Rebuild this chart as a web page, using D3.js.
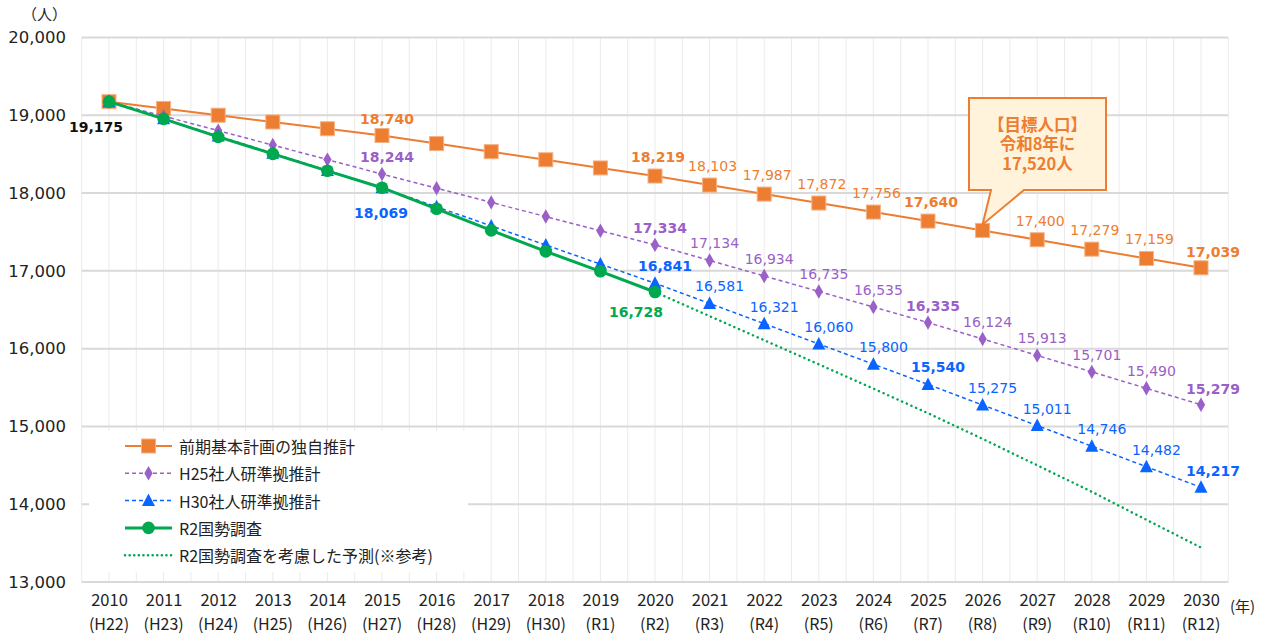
<!DOCTYPE html>
<html><head><meta charset="utf-8">
<script src="https://cdn.jsdelivr.net/npm/d3@7/dist/d3.min.js"></script>
<style>
html,body{margin:0;padding:0;background:#fff;}
svg{display:block;font-family:"Noto Sans CJK JP","Noto Sans",sans-serif;}
</style></head><body>
<svg id="chart" width="1271" height="635"></svg>
<script>
const years = [2010,2011,2012,2013,2014,2015,2016,2017,2018,2019,2020,2021,2022,2023,2024,2025,2026,2027,2028,2029,2030];
const eraLabels = ["(H22)","(H23)","(H24)","(H25)","(H26)","(H27)","(H28)","(H29)","(H30)","(R1)","(R2)","(R3)","(R4)","(R5)","(R6)","(R7)","(R8)","(R9)","(R10)","(R11)","(R12)"];
const yTicks = [13000,14000,15000,16000,17000,18000,19000,20000];

const planValues = [19175,19088,19001,18914,18827,18740,18636,18532,18428,18323,18219,18103,17987,17872,17756,17640,17520,17400,17279,17159,17039];
const h25Values  = [19175,18989,18803,18617,18430,18244,18062,17880,17698,17516,17334,17134,16934,16735,16535,16335,16124,15913,15701,15490,15279];
const h30Values  = [19175,18954,18733,18512,18290,18069,17823,17578,17332,17087,16841,16581,16321,16060,15800,15540,15275,15011,14746,14482,14217];
const censusYears  = [2010,2011,2012,2013,2014,2015,2016,2017,2018,2019,2020];
const censusValues = [19175,18954,18723,18504,18286,18069,17798,17520,17250,16994,16728];
const forecastYears  = [2020,2021,2022,2023,2024,2025,2026,2027,2028,2029,2030];
const forecastValues = [16728,16418,16108,15798,15486,15170,14840,14500,14160,13800,13443];

const seriesNames = ["前期基本計画の独自推計","H25社人研準拠推計","H30社人研準拠推計","R2国勢調査","R2国勢調査を考慮した予測(※参考)"];
const labelYears = [2015,2020,2021,2022,2023,2024,2025,2026,2027,2028,2029,2030];
const boldYears = [2015,2020,2025,2030];
const calloutLines = ["【目標人口】","令和8年に","17,520人"];
const yUnit = "（人）";
const xUnit = "(年)";

const C = {orange:"#ED7D31", purple:"#9B5FC8", blue:"#0A64FF", green:"#00A84F"};
const numFont = "'DejaVu Sans',Verdana,sans-serif";

const svg = d3.select("#chart");
const x = d3.scalePoint().domain(years).range([109, 1201]);
const step = x.step();
const left = x(2010) - step/2, right = x(2030) + step/2;
const y = d3.scaleLinear().domain([13000, 20000]).range([582, 37.5]);
const fmt = d3.format(",");

// vertical grid (years and half-years)
const g = svg.append("g");
const vx = [];
years.forEach(yr => { vx.push(x(yr) - step/2); vx.push(x(yr)); });
vx.push(right);
g.selectAll("line.v").data(vx).join("line")
  .attr("x1", d => d).attr("x2", d => d).attr("y1", y(20000)).attr("y2", y(13000))
  .attr("stroke", "#ebebeb").attr("stroke-width", 1);
// horizontal grid
g.selectAll("line.h").data(yTicks).join("line")
  .attr("x1", left).attr("x2", right).attr("y1", d => y(d)).attr("y2", d => y(d))
  .attr("stroke", "#d9d9d9").attr("stroke-width", 2);

// y axis labels
const yAxis = d3.axisLeft(y).tickValues(yTicks).tickFormat(fmt).tickSize(0).tickPadding(0);
const ya = svg.append("g").attr("transform", `translate(66,0)`).call(yAxis)
  .attr("font-family", numFont).attr("font-size", 16.5);
ya.select(".domain").remove();
ya.selectAll("text").attr("fill", "#222");
svg.append("text").attr("x", 22).attr("y", 20).attr("font-size", 15).attr("fill", "#222").text(yUnit);

// x axis labels
const xAxis = d3.axisBottom(x).tickSize(0).tickPadding(0).tickFormat(d => d);
const xa = svg.append("g").call(xAxis)
  .attr("font-family", "'Noto Sans CJK JP',sans-serif").attr("font-size", 16.5);
xa.select(".domain").remove();
xa.selectAll("text").attr("y", 599).attr("dy", null).attr("dominant-baseline", "central").attr("fill", "#222");
svg.append("g").selectAll("text").data(years).join("text")
  .attr("x", d => x(d)).attr("y", 623).attr("text-anchor", "middle").attr("dominant-baseline", "central")
  .attr("font-size", 16).attr("fill", "#222").text((d, i) => eraLabels[i]);
svg.append("text").attr("x", 1230).attr("y", 605).attr("dominant-baseline", "central")
  .attr("font-size", 15).attr("fill", "#222").text(xUnit);

// legend box
svg.append("rect").attr("x", 89).attr("y", 431).attr("width", 379).attr("height", 141).attr("fill", "#fff");

// marker helpers
function marker(sel, type, color) {
  if (type === "square") {
    sel.append("rect").attr("x", -7).attr("y", -7).attr("width", 14).attr("height", 14)
      .attr("fill", color).attr("stroke", "#F4B183").attr("stroke-width", 1);
  } else if (type === "diamond") {
    sel.append("path").attr("d", d3.symbol(d3.symbolDiamond, 60)()).attr("fill", color);
  } else if (type === "triangle") {
    sel.append("path").attr("d", "M0,-7L6.5,5.5L-6.5,5.5Z").attr("fill", color);
  } else if (type === "circle") {
    sel.append("circle").attr("r", 6.3).attr("fill", color);
  }
}

const line = d3.line().x(d => x(d[0])).y(d => y(d[1]));
const series = [
  {name: seriesNames[0], ys: years, vals: planValues, color: C.orange, w: 2, dash: null, m: "square"},
  {name: seriesNames[1], ys: years, vals: h25Values, color: C.purple, w: 1.5, dash: "4,3", m: "diamond"},
  {name: seriesNames[2], ys: years, vals: h30Values, color: C.blue, w: 1.5, dash: "4,3", m: "triangle"},
  {name: seriesNames[3], ys: censusYears, vals: censusValues, color: C.green, w: 3, dash: null, m: "circle"},
  {name: seriesNames[4], ys: forecastYears, vals: forecastValues, color: C.green, w: 2.5, dash: "0.1,5", m: null}
];

[4,0,1,2,3].forEach(i => {
  const s = series[i];
  const pts = s.ys.map((yr, j) => [yr, s.vals[j]]);
  const p = svg.append("path").attr("d", line(pts)).attr("fill", "none")
    .attr("stroke", s.color).attr("stroke-width", s.w);
  if (s.dash) p.attr("stroke-dasharray", s.dash);
  if (i === 4) p.attr("stroke-linecap", "round");
  if (s.m) {
    pts.forEach(pt => {
      const mg = svg.append("g").attr("transform", `translate(${x(pt[0])},${y(pt[1])})`);
      marker(mg, s.m, s.color);
    });
  }
});

// data labels
function label(xx, yy, txt, color, bold) {
  svg.append("text").attr("x", xx).attr("y", yy).attr("text-anchor", "middle")
    .attr("dominant-baseline", "central").attr("font-family", numFont)
    .attr("font-size", 14).attr("font-weight", bold ? "bold" : "normal")
    .attr("fill", color).text(txt);
}
const offs = [
  {dx: 3, dy: -19},   // orange
  {dx: 5, dy: -17},   // purple
  {dx: 10, dy: -17}   // blue
];
[0,1,2].forEach(i => {
  const s = series[i];
  s.ys.forEach((yr, j) => {
    if (!labelYears.includes(yr)) return;
    if (i === 0 && yr === 2026) return;
    let dx = offs[i].dx, dy = offs[i].dy;
    if (i === 2 && yr === 2015) { dx = -1; dy = 25; }
    if (i === 0 && yr === 2015) { dx = 5; dy = -17; }
    if (yr === 2030) { dx = 12; dy = -16; }
    label(x(yr) + dx, y(s.vals[j]) + dy, fmt(s.vals[j]), s.color, boldYears.includes(yr));
  });
});
label(x(2020) - 19, y(censusValues[10]) + 20, fmt(censusValues[10]), C.green, true);
label(x(2010) - 13, y(planValues[0]) + 25, fmt(planValues[0]), "#111", true);

// callout
const tipX = x(2026), tipY = y(planValues[16]) - 6;
const bx0 = 969, bx1 = 1106, by0 = 98, by1 = 190;
svg.append("path")
  .attr("d", `M${bx0},${by0}H${bx1}V${by1}H1024L${tipX},${tipY}L991,${by1}H${bx0}Z`)
  .attr("fill", "#FFF3DC").attr("stroke", C.orange).attr("stroke-width", 2);
calloutLines.forEach((t, i) => {
  svg.append("text").attr("x", (bx0 + bx1) / 2).attr("y", 123.5 + i * 19.5)
    .attr("text-anchor", "middle").attr("dominant-baseline", "central")
    .attr("font-size", 16.5).attr("font-weight", "bold").attr("fill", C.orange).text(t);
});

// legend
const lg = svg.append("g");
series.forEach((s, i) => {
  const ly = 446 + i * 27.3;
  const l = lg.append("line").attr("x1", 125).attr("x2", 172).attr("y1", ly).attr("y2", ly)
    .attr("stroke", s.color).attr("stroke-width", i === 3 ? 3 : (i === 4 ? 2.5 : (i === 0 ? 2 : 1.5)));
  if (s.dash) l.attr("stroke-dasharray", i === 4 ? "0.1,4.5" : "4,3");
  if (i === 4) l.attr("stroke-linecap", "round");
  if (s.m) {
    const mg = lg.append("g").attr("transform", `translate(148.5,${ly})`);
    marker(mg, s.m, s.color);
  }
  lg.append("text").attr("x", 179).attr("y", ly).attr("dominant-baseline", "central")
    .attr("font-size", 16).attr("fill", "#222").text(s.name);
});
</script>
</body></html>
